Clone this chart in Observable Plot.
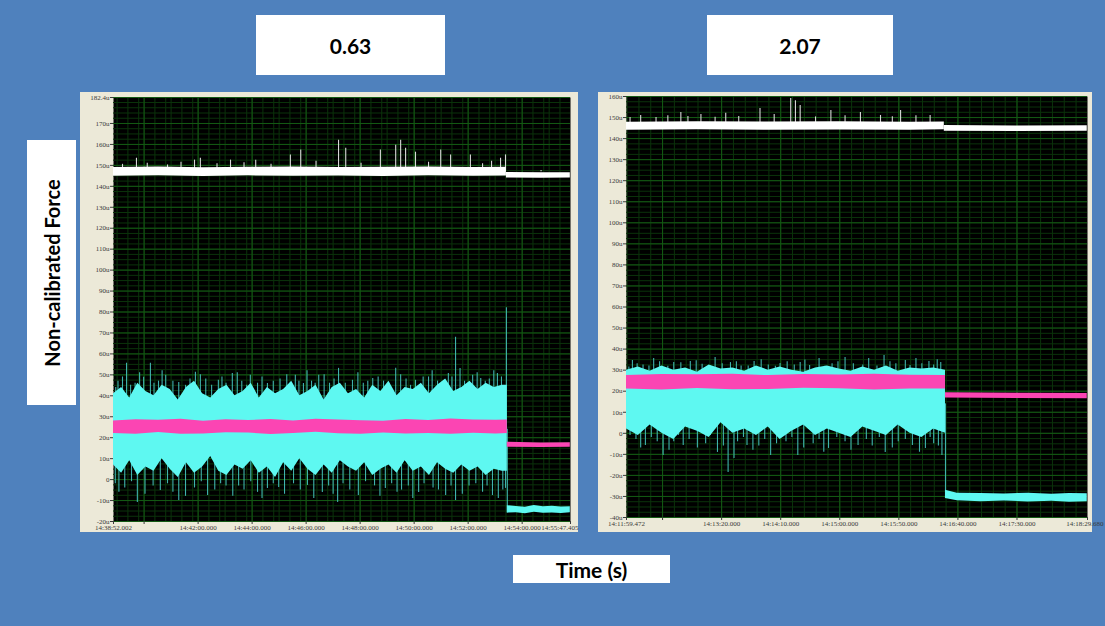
<!DOCTYPE html>
<html><head><meta charset="utf-8">
<script src="https://cdn.jsdelivr.net/npm/d3@7"></script>
<script src="https://cdn.jsdelivr.net/npm/@observablehq/plot@0.6"></script>
<style>
body{margin:0;width:1105px;height:626px;background:#4f81bd;position:relative;overflow:hidden;font-family:Lato,"Open Sans",sans-serif}
.box{position:absolute;background:#fff;display:flex;align-items:center;justify-content:center;font-weight:bold;color:#000}
.panel{position:absolute;background:#ece9d8;overflow:visible}
.panel svg{display:block;overflow:visible}
</style></head><body>
<div class="box" style="left:256px;top:15px;width:189px;height:60px;font-size:21px">0.63</div>
<div class="box" style="left:707px;top:15px;width:186px;height:60px;font-size:21px">2.07</div>
<div class="box" style="left:27px;top:140px;width:49px;height:265px"><div style="transform:rotate(-90deg);white-space:nowrap;font-size:20px">Non-calibrated Force</div></div>
<div class="box" style="left:513px;top:555px;width:157px;height:28px;font-size:21px">Time (s)</div>
<div id="p1" class="panel" style="left:80px;top:92px;width:498px;height:440px"></div>
<div id="p2" class="panel" style="left:598px;top:92px;width:494px;height:440px"></div>
<script>
// ---------- Left panel (0.63) ----------
const leftXTicks = ["14:38:52.002","14:40:00.000","14:42:00.000","14:44:00.000","14:46:00.000","14:48:00.000","14:50:00.000","14:52:00.000","14:54:00.000","14:55:47.405"];
const leftXLabels = ["14:38:52.002","","14:42:00.000","14:44:00.000","14:46:00.000","14:48:00.000","14:50:00.000","14:52:00.000","14:54:00.000","14:55:47.405"];
const leftYTicks = [-20,-10,0,10,20,30,40,50,60,70,80,90,100,110,120,130,140,150,160,170,182.4];
const leftYMax = 182.4, leftYMin = -20;
// dense cyan band: seconds from start, high, low (µ units)
const leftCyanTimes = [0,18,36,54,72,90,108,126,144,162,180,198,216,234,252,270,288,306,324,342,360,378,396,414,432,450,468,486,504,522,540,558,576,594,612,630,648,666,684,702,720,738,756,774,792,810,828,846,864,875];
const leftCyanHigh = [41,44,39,46,42,40,45,43,38,44,47,41,39,43,45,40,42,46,39,44,41,43,47,40,42,45,38,44,46,41,43,39,45,42,47,40,44,43,46,41,45,48,42,44,47,43,46,44,45,45];
const leftCyanLow  = [7,3,9,2,6,4,10,5,1,8,3,6,11,4,2,7,5,9,3,6,1,8,4,10,5,2,7,3,9,6,4,8,2,5,7,3,9,4,6,2,8,5,3,7,4,6,2,5,4,4];
const leftCyanPost = [[875,-16,-12.5],[895,-15.8,-12.8],[915,-16.3,-13.2],[935,-15.6,-12.4],[955,-16.1,-13],[975,-15.9,-12.7],[995,-16.2,-13.1],[1015,-15.8,-12.9]];
const leftCyanUp = [[5,44],[10,47],[20,49],[29,55.5],[38,45],[48,46],[58,51],[67,48.8],[82,55.5],[90,46],[100,47],[108,52],[116,49.8],[132,47],[145,46.4],[160,45],[170,48],[182,51.2],[193,50],[205,48],[218,45],[233,47.4],[241,49],[250,46],[264,50.7],[275,51],[285,47],[296,45],[304,49.8],[320,46],[330,49],[342,45.9],[355,47],[370,48],[385,50],[404,49.8],[412,47],[422,45.9],[430,52],[440,47],[448,46],[456,49.8],[468,50],[480,46],[490,48],[500,53.1],[515,46],[531,47.4],[543,51],[555,46],[565,47],[576,48.3],[588,49],[600,47],[612,46],[627,53.1],[638,50],[650,48],[660,45],[671,47.4],[688,49],[700,49],[708,52],[720,47],[730,46],[744,50.7],[752,49],[760,68],[770,53],[780,47],[790,46],[798,49.8],[808,51],[816,48.3],[826,47],[835,48],[845,52],[853,50.7],[862,49],[873,82]];
const leftCyanDown = [[4,-2],[12,-6],[25,-4],[40,-1],[53,-10.9],[70,-7],[88,-3],[104,-5.2],[120,-2],[132,-6],[145,-10],[160,-8],[180,-4],[195,-1],[209,-7.6],[225,-5],[238,-2],[250,-3],[265,-8],[278,-3],[290,-5],[305,-1],[320,-6.1],[330,-9],[342,-4.2],[355,-2],[367,-3.8],[380,-7],[400,-2],[415,-5],[431,-2.8],[445,-9],[464,-6.1],[478,-3],[488,-7],[498,-10.9],[510,-2],[525,-5],[544,-7.6],[560,-1],[580,-3],[592,-8],[604,-4.2],[618,-2],[630,-6],[640,-5],[655,-3],[665,-9],[678,-6.1],[690,-2],[710,-4],[722,-5],[738,-7.6],[750,-3],[760,-10],[775,-7],[790,-3],[805,-2],[820,-6],[830,-3],[842,-7.6],[855,-9],[865,-5],[871,-4.2],[875,-16]];
const leftPinkPre = [[0,22,28],[50,21.6,28.6],[100,22.5,28.3],[150,21.7,28.8],[200,21.8,27.8],[250,22.4,28.6],[300,22.2,28.2],[350,21.5,28.7],[400,22,28],[450,22.6,28.8],[500,21.9,28.4],[550,21.6,28.1],[600,22.3,27.9],[650,21.8,28.7],[700,22,28.2],[750,21.7,28.9],[800,22.1,28.5],[850,21.8,28.3],[875,22,28.4]];
const leftPinkPost = [[875,15.5,17.8],[950,15.3,17.5],[1015,15.4,17.6]];
const leftWhitePre = [[0,144.8,149],[100,145,149.2],[200,144.7,148.9],[300,145,149.1],[400,144.8,149.2],[500,144.9,149],[600,144.7,149.1],[700,145,149.2],[800,144.8,149],[873,144.9,149.1]];
const leftWhitePost = [[873,144,146.6],[950,143.9,146.5],[1015,144,146.5]];
const leftWhiteUp = [[20,150.5],[51,153.4],[75,151],[120,150.2],[150,151.5],[180,152.5],[193,153.4],[230,150.8],[260,152.5],[290,151.2],[316,152.5],[350,150.5],[393,155],[416,157.3],[450,152],[500,162],[516,158.2],[550,151],[593,157.3],[627,159.6],[638,162],[649,158.2],[671,156.3],[700,151.5],[727,157.3],[749,155],[793,155],[820,150.8],[840,152],[860,153.4],[871,155],[950,147.5]];

// ---------- Right panel (2.07) ----------
const rightXTicks = ["14:11:59.472","14:12:30.000","14:13:20.000","14:14:10.000","14:15:00.000","14:15:50.000","14:16:40.000","14:17:30.000","14:18:29.680"];
const rightXLabels = ["14:11:59.472","","14:13:20.000","14:14:10.000","14:15:00.000","14:15:50.000","14:16:40.000","14:17:30.000","14:18:29.680"];
const rightYTicks = [-40,-30,-20,-10,0,10,20,30,40,50,60,70,80,90,100,110,120,130,140,150,160];
const rightCyanTimes = [0,10,20,30,40,50,60,70,80,90,100,110,120,130,140,150,160,170,180,190,200,210,220,230,240,250,260,270];
const rightCyanHigh = [30,31.5,29.5,32,30,31,29,32.5,30.5,31,29.5,32,30,31.5,30,29,31,32,30.5,29.5,31.5,30,32,29.5,31,30.5,31,30];
const rightCyanLow  = [2,-1,4,0,-3,3,1,-2,5,0,2,-1,3,-3,1,4,-1,2,0,-2,3,1,-1,4,0,-2,2,0];
const rightCyanPost = [[270,-31,-27],[280,-32,-28.5],[300,-32.5,-28.6],[320,-32.2,-28.8],[340,-32.6,-28.5],[360,-32.3,-28.9],[375,-32.8,-28.6],[390,-32.5,-28.7]];
const rightCyanUp = [[2,31.5],[5,34.6],[9,33],[14,32.5],[19,32],[23,35.5],[28,34],[35,31.8],[40,33.6],[46,33.5],[54,34.1],[59,34.5],[64,32.8],[70,31.9],[75,36],[81,33],[88,33.6],[93,34],[97,32],[103,32],[108,34.1],[114,35],[120,32.5],[126,31.8],[130,33.1],[136,34],[142,32.5],[147,33.6],[151,34.8],[155,32.2],[163,35.5],[168,31.9],[174,33],[179,34],[185,36],[192,33],[200,32.5],[205,35.5],[212,32],[218,37],[223,34],[228,33],[236,34.6],[240,32.2],[245,35.5],[250,33],[256,34.1],[260,32.5],[263,35],[266,33.6]];
const rightCyanDown = [[3,-1],[8,-3],[12,-7],[16,-5.8],[21,-2],[26,-4],[31,-10.5],[36,-8],[40,-4],[44,-1],[48,-5.8],[53,-3],[60,-7],[67,-5],[71,-1],[77,-9.1],[82,-6],[86,-18.6],[91,-12],[94,-4],[99,-2],[102,-5.8],[107,-8],[112,-6],[117,-3],[122,-10.5],[127,-5],[135,-4],[140,-2],[145,-10.5],[150,-7],[158,-5],[163,-3],[167,-9],[171,-7.2],[178,-2],[185,-4],[190,-8],[196,-5.8],[203,-3],[208,-6],[214,-2],[219,-9.1],[225,-7],[230,-4],[236,-3],[242,-5.8],[248,-9],[253,-7.2],[257,-2],[260,-5],[264,-6],[267,-10.5],[270,-31]];
const rightPinkPre = [[0,21,27.5],[30,20.6,27.9],[60,21.3,27.8],[90,20.7,28],[120,20.8,27.4],[150,21.4,27.9],[180,21.2,27.7],[210,20.6,28.1],[240,21,27.6],[270,21.1,27.5]];
const rightPinkPost = [[270,16.8,19.3],[330,16.5,19],[390,16.4,18.9]];
const rightWhitePre = [[0,144,147.8],[60,144.2,148],[120,144,147.9],[180,144.1,148],[240,144,147.8],[269,144.2,147.9]];
const rightWhitePost = [[269,143.5,146.2],[330,143.4,146],[390,143.5,146.1]];
const rightWhiteUp = [[3,150],[12,151],[25,150],[35,150.8],[46,152.4],[52,150.5],[63,151.5],[75,150.2],[84,152],[95,150.5],[113,154.3],[125,151.5],[139,159],[143,158],[147,155.7],[160,150.3],[173,153.3],[185,150.8],[198,152.4],[215,151],[225,150.4],[232,153.3],[245,150.9],[257,151]];

const parseT = d3.utcParse("%H:%M:%S.%L");
const fmtU = d => d === 0 ? "0" : d + "u";

function panel(cfg) {
  const ticks = cfg.xTicks.map(parseT);
  const t0 = ticks[0], t1 = ticks[ticks.length - 1];
  const T = s => new Date(+t0 + s * 1000);
  const labelMap = new Map(ticks.map((d, i) => [+d, i === ticks.length - 1 ? "" : cfg.xLabels[i]]));
  const minorX = d3.utcSecond.every(cfg.minorSec).range(t0, t1);
  const majorX = ticks.slice(1, -1);
  const minorY = d3.range(cfg.yDomain[0], cfg.yDomain[1], 2.5);
  const majorY = cfg.yTicks;
  const cyanPre = cfg.cyanTimes.map((t, i) => [t, cfg.cyanLow[i], cfg.cyanHigh[i]]);
  const band = (data, fill) => Plot.areaY(data, {x: d => T(d[0]), y1: d => d[1], y2: d => d[2], fill, curve: "linear"});
  const spikes = (data, base, stroke, w) => Plot.ruleX(data, {x: d => T(d[0]), y1: base, y2: d => d[1], stroke, strokeWidth: w});
  return Plot.plot({
    width: cfg.width, height: 440,
    marginLeft: cfg.ml, marginRight: cfg.mr, marginTop: cfg.mt, marginBottom: cfg.mb,
    style: {background: "transparent", fontFamily: "'Liberation Serif', serif", fontSize: "7px", color: "#3a3a3a", overflow: "visible"},
    x: {type: "utc", domain: [t0, t1]},
    y: {domain: cfg.yDomain},
    marks: [
      Plot.frame({fill: "black", stroke: null}),
      Plot.ruleY(minorY, {stroke: "#0b330b", strokeWidth: 1}),
      Plot.ruleX(minorX, {stroke: "#0b330b", strokeWidth: 1}),
      Plot.ruleY(majorY, {stroke: "#145a14", strokeWidth: 1}),
      Plot.ruleX(majorX, {stroke: "#145a14", strokeWidth: 1}),
      spikes(cfg.cyanUp, cfg.cyanMid, "#3fb2ad", 1.1),
      spikes(cfg.cyanDown, cfg.cyanMid, "#3fb2ad", 1.1),
      band(cyanPre, "#5ef8f1"),
      band(cfg.cyanPost, "#5ef8f1"),
      band(cfg.pinkPre, "#fb45b3"),
      band(cfg.pinkPost, "#fb45b3"),
      spikes(cfg.whiteUp, 147, "#d8d8d8", 1.1),
      band(cfg.whitePre, "#ffffff"),
      band(cfg.whitePost, "#ffffff"),
      Plot.axisY(cfg.yTicks, {tickSize: 3, tickPadding: 1, tickFormat: fmtU, fontSize: 7, fill: "#3a3a3a"}),
      Plot.axisX(ticks, {tickSize: 3, tickPadding: 1, tickFormat: d => labelMap.get(+d), fontSize: 7, fill: "#3a3a3a"}),
      Plot.text([t1], {x: d => d, frameAnchor: "bottom", lineAnchor: "top", dy: 4, dx: cfg.endDx, textAnchor: "end", text: () => cfg.xLabels[cfg.xLabels.length - 1], fontSize: 7, fill: "#3a3a3a"})
    ]
  });
}

document.getElementById("p1").append(panel({
  width: 498, ml: 33, mr: 8, mt: 5, mb: 11, endDx: 8,
  xTicks: leftXTicks, xLabels: leftXLabels, minorSec: 24,
  yTicks: leftYTicks, yDomain: [leftYMin, leftYMax], cyanMid: 24,
  cyanTimes: leftCyanTimes, cyanHigh: leftCyanHigh, cyanLow: leftCyanLow,
  cyanPost: leftCyanPost, cyanUp: leftCyanUp, cyanDown: leftCyanDown,
  pinkPre: leftPinkPre, pinkPost: leftPinkPost,
  whitePre: leftWhitePre, whitePost: leftWhitePost, whiteUp: leftWhiteUp
}));
document.getElementById("p2").append(panel({
  width: 494, ml: 28, mr: 5, mt: 4, mb: 15, endDx: 16,
  xTicks: rightXTicks, xLabels: rightXLabels, minorSec: 10,
  yTicks: rightYTicks, yDomain: [-40, 160], cyanMid: 14,
  cyanTimes: rightCyanTimes, cyanHigh: rightCyanHigh, cyanLow: rightCyanLow,
  cyanPost: rightCyanPost, cyanUp: rightCyanUp, cyanDown: rightCyanDown,
  pinkPre: rightPinkPre, pinkPost: rightPinkPost,
  whitePre: rightWhitePre, whitePost: rightWhitePost, whiteUp: rightWhiteUp
}));
</script>
</body></html>
